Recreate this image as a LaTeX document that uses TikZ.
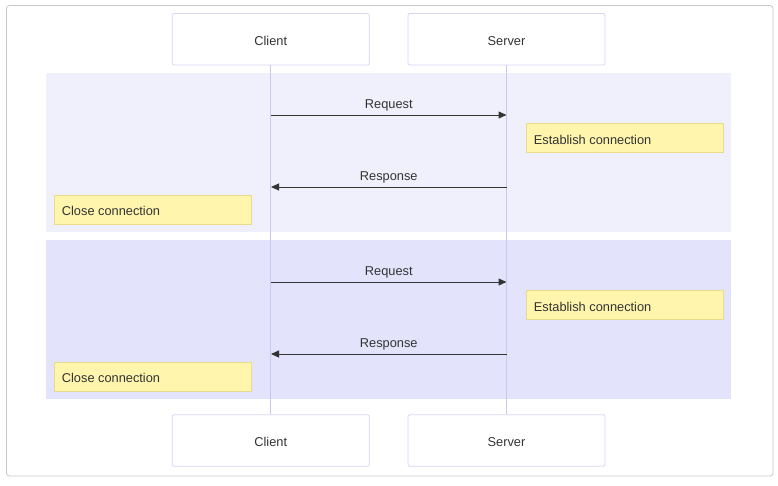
\documentclass[tikz,border=0pt]{standalone}
\usepackage{fontspec}
\setmainfont{Liberation Sans}
\usetikzlibrary{arrows.meta}
\definecolor{frameC}{HTML}{C8C8C8}
\definecolor{actorC}{HTML}{D6D6F5}
\definecolor{lifeC}{HTML}{C9C9F0}
\definecolor{boxA}{HTML}{F0F0FC}
\definecolor{boxB}{HTML}{E3E3FB}
\definecolor{noteF}{HTML}{FFF5AD}
\definecolor{noteD}{HTML}{E8DB8C}
\definecolor{txt}{HTML}{333333}
\begin{document}
\begin{tikzpicture}[x=1pt,y=-1pt,
  actor/.style={draw=actorC,fill=white,rounded corners=2pt,minimum width=197pt,minimum height=51.5pt,inner sep=0pt,line width=0.8pt},
  actortext/.style={text=txt,font=\fontsize{12.8}{14}\selectfont,inner sep=0pt,yshift=-1.5pt},
  life/.style={draw=lifeC,line width=0.9pt},
  note/.style={draw=noteD,fill=noteF,minimum width=197pt,minimum height=29pt,inner sep=0pt,line width=0.6pt},
  notetext/.style={text=txt,font=\fontsize{12.8}{14}\selectfont,anchor=west,inner sep=0pt,yshift=-1.5pt},
  msg/.style={draw=txt,line width=1pt,-{Triangle[length=8pt,width=7pt]}},
  lbl/.style={text=txt,font=\fontsize{12.8}{14}\selectfont,inner sep=0pt}]
\useasboundingbox (0,0) rectangle (778,485);
\draw[frameC,line width=0.8pt,rounded corners=3pt] (6.5,5.5) rectangle (773,476);
% loop boxes
\fill[boxA] (46,73) rectangle (731,232);
\fill[boxB] (46,240) rectangle (731,399);
% actors
\node[actor] (ct) at (270.75,39.25) {};
\node[actortext] at (ct.center) {Client};
\node[actor] (st) at (506.5,39.25) {};
\node[actortext] at (st.center) {Server};
\node[actor] (cb) at (270.75,440.5) {};
\node[actortext] at (cb.center) {Client};
\node[actor] (sb) at (506.5,440.5) {};
\node[actortext] at (sb.center) {Server};
% lifelines
\draw[life] (ct.south) -- (cb.north);
\draw[life] (st.south) -- (sb.north);
% coordinates
\coordinate (c1) at (271,115); \coordinate (s1) at (506.5,115);
\coordinate (s2) at (506.5,187); \coordinate (c2) at (271,187);
\coordinate (c3) at (271,282); \coordinate (s3) at (506.5,282);
\coordinate (s4) at (506.5,354); \coordinate (c4) at (271,354);
% messages
\draw[msg] (c1) -- (s1) node[lbl,midway,above=3pt] (r1) {Request};
\draw[msg] (s2) -- (c2) node[lbl,midway,above=3pt] (p1) {Response};
\draw[msg] (c3) -- (s3) node[lbl,midway,above=3pt] (r2) {Request};
\draw[msg] (s4) -- (c4) node[lbl,midway,above=3pt] (p2) {Response};
% notes
\node[note] (e1) at (624.5,138) {};
\node[notetext] at ([xshift=8pt]e1.west) {Establish connection};
\node[note] (k1) at (152.5,209.5) {};
\node[notetext] at ([xshift=8pt]k1.west) {Close connection};
\node[note] (e2) at (624.5,305) {};
\node[notetext] at ([xshift=8pt]e2.west) {Establish connection};
\node[note] (k2) at (152.5,376.5) {};
\node[notetext] at ([xshift=8pt]k2.west) {Close connection};
\end{tikzpicture}
\end{document}
